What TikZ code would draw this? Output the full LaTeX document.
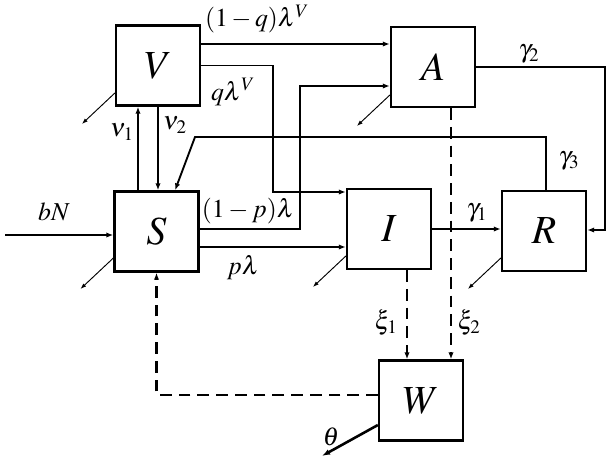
\documentclass[tikz,border=0pt]{standalone}
\usepackage{mathptmx}
\usetikzlibrary{arrows.meta}
\tikzset{
  box/.style={draw, line width=1.9pt, minimum width=2.52cm, minimum height=2.4cm, inner sep=0pt, font=\fontsize{34}{40}\selectfont},
  flow/.style={line width=1.6pt, -{Latex[length=6pt,width=4.5pt]}},
  dflow/.style={flow, line width=1.9pt, dash pattern=on 10pt off 6pt},
  death/.style={line width=0.8pt, -{Latex[length=5pt,width=3.5pt]}},
  lab/.style={font=\fontsize{22}{26}\selectfont, inner sep=0pt},
}
\begin{document}
\begin{tikzpicture}[x=0.03cm,y=-0.03cm]
\useasboundingbox (0,0) rectangle (611,463);
% compartments
\node[box] (V) at (158,65.5) {$V$};
\node[box] (S) at (156.5,231.5) {$S$};
\node[box] (A) at (433,67) {$A$};
\node[box] (I) at (389,229) {$I$};
\node[box] (R) at (544,231) {$R$};
\node[box] (W) at (421,400.5) {$W$};
\coordinate (src) at (5,235);

% flows
\draw[flow] (src) -- (S.west |- src);
\draw[flow] (V.east |- 0,44) -- (A.west |- 0,44);
\draw[flow] (V.east) -| (273,192) -- (I.west |- 0,192);
\draw[flow] (S.east |- 0,229) -| (300,86) -- (A.west |- 0,86);
\draw[flow] (S.east |- 0,247) -- (I.west |- 0,247);
\draw[flow] (S.north -| 138,0) -- (V.south -| 138,0);
\draw[flow] (V.south -| 158,0) -- (S.north -| 158,0);
\draw[flow] (R.north -| 546,0) |- (195,137) -- (S.north -| 175,0);
\draw[flow] (A.east) -| (605,230) -- (R.east |- 0,230);
\draw[flow] (I.east) -- (R.west |- I.east);
\draw[dflow] (I.south -| 407,0) -- (W.north -| 407,0);
\draw[dflow] (A.south -| 451,0) -- (W.north -| 451,0);
\draw[dflow] (W.west |- 0,395) -| (S.south);
\draw[line width=2.2pt, -{Latex[length=7pt,width=5pt]}] (W.west |- 0,425) -- ++(-56,31);

% natural deaths
\foreach \n/\y in {V/93,S/258,A/95,I/256,R/258}
  \draw[death] (\n.west |- 0,\y) -- ++(-33,31);

% rates
\node[lab] (lbN) at (54,212) {$bN$};
\node[lab] (lqV1) at (257,19) {$(1-q)\lambda^{V}$};
\node[lab] (lqV) at (233,92) {$q\lambda^{V}$};
\node[lab] (lnu1) at (122,132) {$\nu_1$};
\node[lab] (lnu2) at (175,125) {$\nu_2$};
\node[lab] (lp1) at (248,211) {$(1-p)\lambda$};
\node[lab] (lp) at (243,268) {$p\lambda$};
\node[lab] (lg2) at (529,54) {$\gamma_2$};
\node[lab] (lg3) at (569,161) {$\gamma_3$};
\node[lab] (lg1) at (477,213) {$\gamma_1$};
\node[lab] (lxi1) at (386,323) {$\xi_1$};
\node[lab] (lxi2) at (469,323) {$\xi_2$};
\node[lab] (lth) at (331,437) {$\theta$};
\end{tikzpicture}
\end{document}
